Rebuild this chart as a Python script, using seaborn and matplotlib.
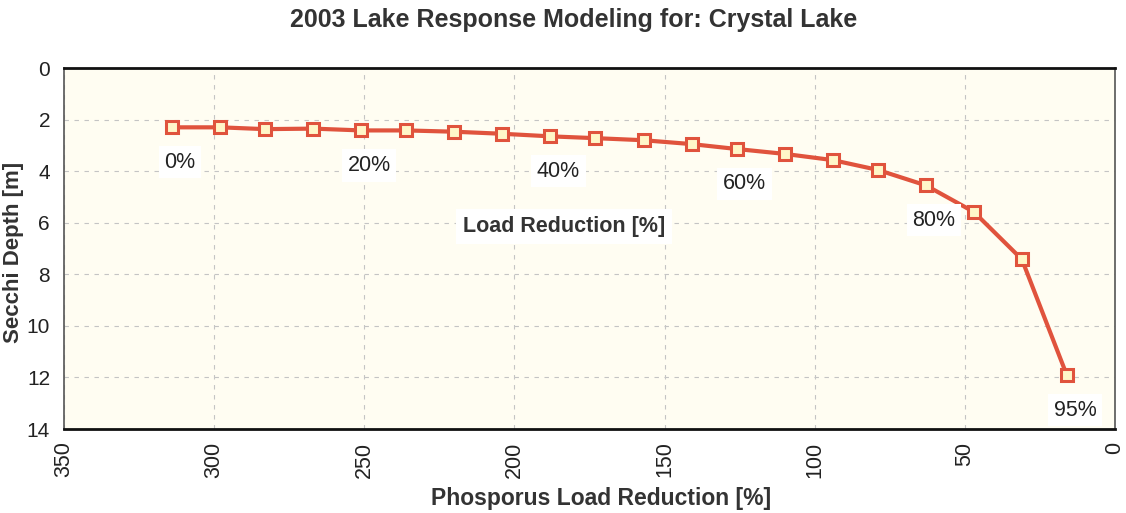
import matplotlib
matplotlib.use("Agg")
import matplotlib.pyplot as plt
import seaborn as sns
import pandas as pd

# load reduction steps and resulting phosphorus load / secchi depth
reduction_pct = [0, 5, 10, 15, 20, 25, 30, 35, 40, 45, 50, 55, 60, 65, 70, 75, 80, 85, 90, 95]
phos_load = [314, 298, 283, 267, 251, 236, 220, 204, 188, 173, 157, 141, 126, 110, 94, 79, 63, 47, 31, 16]
secchi_depth = [2.30, 2.30, 2.37, 2.35, 2.42, 2.42, 2.47, 2.55, 2.65, 2.72, 2.80, 2.95, 3.14, 3.33, 3.57, 3.95, 4.55, 5.58, 7.42, 11.92]
labelled_steps = [0, 20, 40, 60, 80, 95]

x_ticks = [350, 300, 250, 200, 150, 100, 50, 0]
y_ticks = [0, 2, 4, 6, 8, 10, 12, 14]

df = pd.DataFrame({"load": phos_load, "secchi": secchi_depth, "reduction": reduction_pct})

sns.set_style("white")
plt.rcParams["font.family"] = ["Liberation Sans", "DejaVu Sans"]

fig = plt.figure(figsize=(11.26, 5.13), dpi=100)
ax = fig.add_axes([0.0568, 0.1637, 0.9334, 0.7037])
ax.set_facecolor("#fffdf2")

sns.lineplot(
    data=df, x="load", y="secchi", sort=False, ax=ax,
    color="#e0533d", linewidth=3,
    marker="s", markersize=8, markerfacecolor="#fff6c8",
    markeredgecolor="#e0533d", markeredgewidth=2.2,
)

ax.set_xlim(350, 0)
ax.set_ylim(14, 0)
ax.set_xticks(x_ticks)
ax.set_yticks(y_ticks)
ax.tick_params(axis="x", labelrotation=90, labelsize=15.5, length=3, pad=6, labelcolor="#222222")
ax.tick_params(axis="y", labelsize=15, length=3, pad=7, labelcolor="#222222")
ax.grid(True, color="#c4c4c4", linestyle=(0, (4, 5)), linewidth=0.8)

for side in ["left", "right", "top", "bottom"]:
    ax.spines[side].set_color("#555555")
    ax.spines[side].set_linewidth(1.2)
ax.spines["top"].set_color("#111111")
ax.spines["bottom"].set_color("#111111")
ax.spines["bottom"].set_linewidth(2)
ax.spines["top"].set_linewidth(2)

for r, xv, yv in zip(reduction_pct, phos_load, secchi_depth):
    if r in labelled_steps:
        ax.annotate(f"{r}%", (xv, yv), xytext=(8, -35), textcoords="offset pixels",
                    ha="center", va="center", fontsize=15.5, color="#222222",
                    bbox=dict(facecolor="white", edgecolor="none", pad=4))

ax.text(0.476, 0.56, "Load Reduction [%]", transform=ax.transAxes, ha="center", va="center",
        fontsize=15.5, fontweight="bold", color="#333333",
        bbox=dict(facecolor="white", edgecolor="none", pad=5))

ax.set_xlabel("Phosporus Load Reduction [%]", fontsize=16.5, fontweight="bold", color="#333333")
ax.set_ylabel("Secchi Depth [m]", fontsize=16, fontweight="bold", color="#333333")
ax.xaxis.set_label_coords(0.511, -0.16)
ax.yaxis.set_label_coords(-0.038, 0.49)
fig.text(0.509, 0.961, "2003 Lake Response Modeling for: Crystal Lake", ha="center", va="center",
         fontsize=18, fontweight="bold", color="#333333")

plt.savefig("out.png", dpi=100)
plt.close()
